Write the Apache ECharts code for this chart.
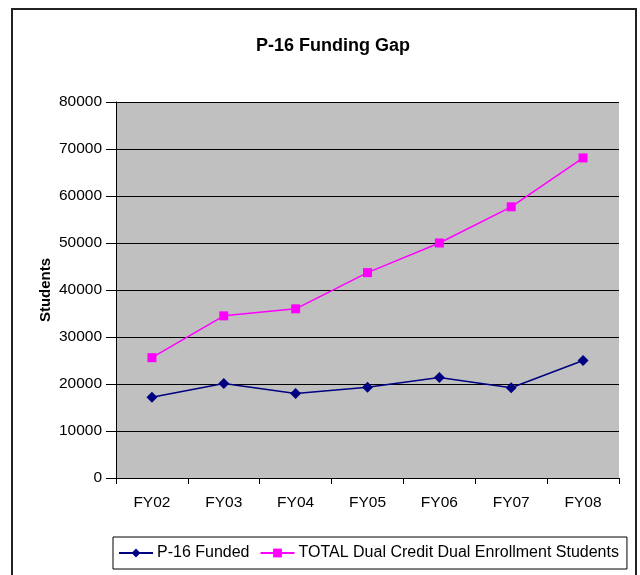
<!DOCTYPE html>
<html>
<head>
<meta charset="utf-8">
<script src="https://cdn.jsdelivr.net/npm/echarts@6/dist/echarts.min.js"></script>
<style>
html,body{margin:0;padding:0;background:#fff;}
#chart{width:640px;height:575px;}
</style>
</head>
<body>
<div id="chart"></div>
<script>
const categories = ['FY02','FY03','FY04','FY05','FY06','FY07','FY08'];
const p16Funded = [17200, 20100, 18000, 19300, 21400, 19200, 25000];
const totalDual = [25600, 34500, 36000, 43700, 50000, 57700, 68100];
const seriesNames = ['P-16 Funded', 'TOTAL Dual Credit Dual Enrollment Students'];

const font = '"Liberation Sans", Arial, sans-serif';
const chart = echarts.init(document.getElementById('chart'), null, {renderer: 'canvas'});
chart.setOption({
  animation: false,
  backgroundColor: '#fff',
  title: {
    text: 'P-16 Funding Gap',
    left: 328, top: 32, textAlign: 'center',
    textStyle: {fontFamily: font, fontSize: 18, fontWeight: 'bold', color: '#000'}
  },
  graphic: [{
    type: 'rect', silent: true,
    shape: {x: 12, y: 9, width: 624, height: 580},
    style: {fill: 'none', stroke: '#222', lineWidth: 2}
  }],
  grid: {left: 116, top: 102, width: 503, height: 376, backgroundColor: '#C0C0C0', show: true, borderWidth: 0},
  legend: {
    left: 113, top: 537,
    padding: [8, 8, 8, 5],
    borderColor: '#000', borderWidth: 1,
    itemWidth: 34, itemHeight: 11, itemGap: 10,
    textStyle: {fontFamily: font, fontSize: 16, color: '#000', padding: [0, 0, 0, -1]},
    data: seriesNames
  },
  xAxis: {
    type: 'category', data: categories, boundaryGap: true,
    axisLine: {lineStyle: {color: '#000', width: 1}},
    axisTick: {show: true, inside: false, length: 6, lineStyle: {color: '#000'}},
    axisLabel: {fontFamily: font, fontSize: 15.5, color: '#000', margin: 17},
    splitLine: {show: false}
  },
  yAxis: {
    type: 'value', min: 0, max: 80000, interval: 10000,
    name: 'Students', nameLocation: 'middle', nameGap: 63, nameRotate: 90,
    nameMoveOverlap: false,
    nameTextStyle: {fontFamily: font, fontSize: 15, fontWeight: 'bold', color: '#000'},
    axisLine: {show: true, lineStyle: {color: '#000', width: 1}},
    axisTick: {show: true, length: 10, lineStyle: {color: '#000'}},
    axisLabel: {fontFamily: font, fontSize: 15.5, color: '#000', margin: 14, formatter: v => String(v)},
    splitLine: {show: true, lineStyle: {color: '#000', width: 1}}
  },
  series: [{
    name: seriesNames[0], type: 'line', data: p16Funded,
    symbol: 'diamond', symbolSize: 11,
    lineStyle: {color: '#000080', width: 1.5},
    itemStyle: {color: '#000080'}
  }, {
    name: seriesNames[1], type: 'line', data: totalDual,
    symbol: 'rect', symbolSize: 9,
    lineStyle: {color: '#FF00FF', width: 1.5},
    itemStyle: {color: '#FF00FF'}
  }]
});
</script>
</body>
</html>
